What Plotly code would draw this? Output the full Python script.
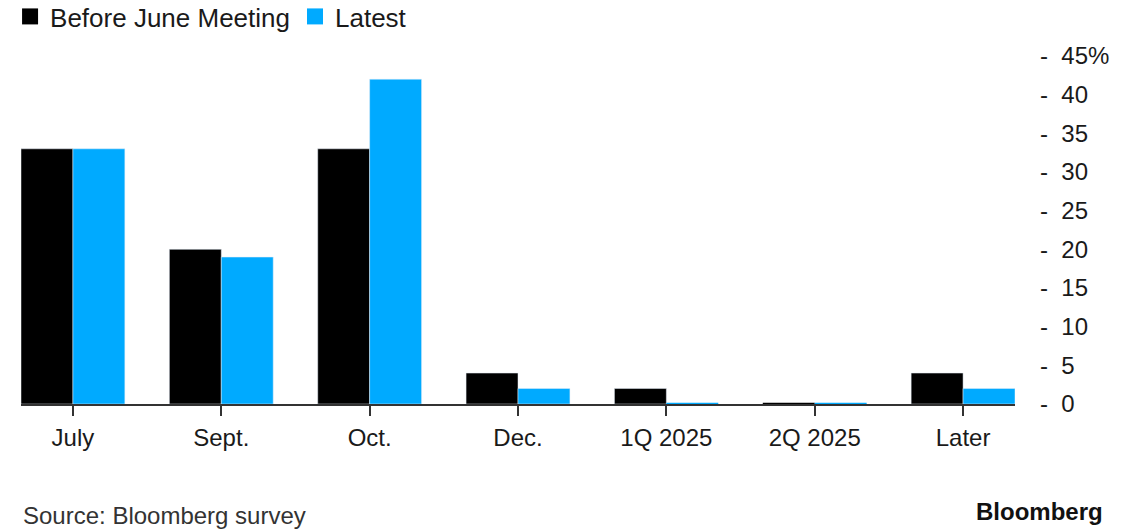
import plotly.graph_objects as go

categories = ["July", "Sept.", "Oct.", "Dec.", "1Q 2025", "2Q 2025", "Later"]
before_june = [33, 20, 33, 4, 2, 0, 4]
latest = [33, 19, 42, 2, 0, 0, 2]
y_ticks = [0, 5, 10, 15, 20, 25, 30, 35, 40, 45]
y_tick_labels = ["0", "5", "10", "15", "20", "25", "30", "35", "40", "45%"]

BLACK = "#000000"
BLUE = "#00aaff"
FONT = "Liberation Sans, Arial, sans-serif"
NB = "\u00a0"

xpos = list(range(len(categories)))
bar_w = 0.35

fig = go.Figure()
fig.add_trace(go.Bar(x=xpos, y=before_june, marker_color=BLACK, offset=-bar_w, width=bar_w,
                     showlegend=False, name="Before June Meeting"))
fig.add_trace(go.Bar(x=xpos, y=latest, marker_color=BLUE, offset=0, width=bar_w,
                     showlegend=False, name="Latest"))

# zero-valued bars rendered as thin colored segments on the baseline
for vals, color, off in [(before_june, BLACK, -bar_w), (latest, BLUE, 0)]:
    for i, v in enumerate(vals):
        if v == 0:
            fig.add_trace(go.Scatter(x=[i + off, i + off + bar_w], y=[v, v], mode="lines",
                                     line=dict(color=color, width=2.5), showlegend=False,
                                     hoverinfo="skip", cliponaxis=False))

# legend entries
for name, color in [("Before June Meeting", BLACK), ("Latest", BLUE)]:
    fig.add_trace(go.Scatter(x=[None], y=[None], mode="markers", name=name,
                             marker=dict(symbol="square", size=17, color=color)))

fig.update_layout(
    width=1142, height=529,
    margin=dict(l=21, r=127, t=56, b=125, autoexpand=False),
    paper_bgcolor="white", plot_bgcolor="white",
    font=dict(family=FONT, size=24, color="#1a1a1a"),
    barmode="overlay",
    legend=dict(orientation="h", xref="paper", yref="paper", x=-0.011, y=1.181,
                xanchor="left", yanchor="top", font=dict(size=26, color="#1a1a1a"),
                itemwidth=30, tracegroupgap=0, bgcolor="rgba(0,0,0,0)"),
    xaxis=dict(range=[-0.35, 6.35], tickmode="array", tickvals=xpos, ticktext=categories,
               showgrid=False, zeroline=False, showline=True, linecolor="#333333", linewidth=1.5,
               ticks="outside", ticklen=10, tickwidth=1.5, tickcolor="#333333",
               ticklabelstandoff=1,
               layer="below traces", tickfont=dict(size=24, color="#1a1a1a")),
    yaxis=dict(range=[0, 45], side="right", tickmode="array", tickvals=y_ticks,
               ticktext=["-" + NB + NB + t for t in y_tick_labels],
               showgrid=False, zeroline=False, showline=False, ticks="",
               ticklabelstandoff=24, tickfont=dict(size=24, color="#1a1a1a")),
    annotations=[
        dict(text="Source: Bloomberg survey", xref="paper", yref="paper", x=0.0, y=-0.32,
             xanchor="left", yanchor="middle", showarrow=False,
             font=dict(family=FONT, size=24, color="#333333")),
        dict(text="<b>Bloomberg</b>", xref="paper", yref="paper", x=1.0, y=-0.308,
             xanchor="right", yanchor="middle", showarrow=False, xshift=90,
             font=dict(family=FONT, size=24, color="#111111")),
    ],
)

fig.write_html("out.html")
